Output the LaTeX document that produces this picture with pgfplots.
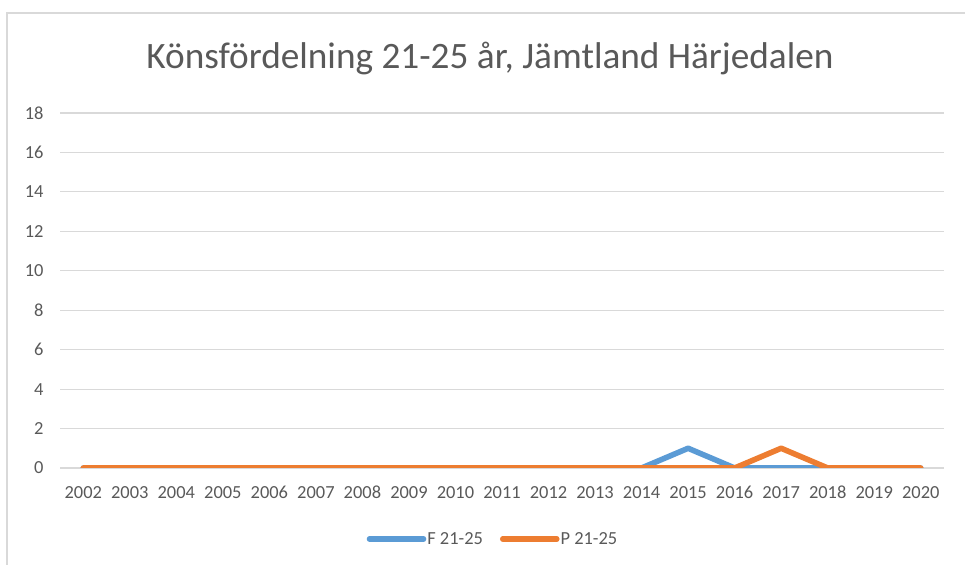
\documentclass[border=0pt]{standalone}
\usepackage{pgfplots}
\pgfplotsset{compat=1.18}
\usepackage{fontspec}
\setmainfont{Carlito}
\definecolor{fblue}{HTML}{5B9BD5}
\definecolor{porange}{HTML}{ED7D31}
\definecolor{gridc}{HTML}{D9D9D9}
\definecolor{txt}{HTML}{595959}
\begin{document}
\begin{tikzpicture}[x=1bp,y=1bp]
\useasboundingbox (0,0) rectangle (965,565);
\draw[gridc, line width=1.2bp] (7,-10) -- (7,552) -- (975,552);
\node[txt, font=\fontsize{37.4}{42}\selectfont] at (490,506) {Könsfördelning 21-25 år, Jämtland Härjedalen};
\begin{axis}[
  at={(60bp,97bp)}, anchor=south west,
  scale only axis, width=884bp, height=355bp,
  xmin=-0.5, xmax=18.5, ymin=0, ymax=18,
  xtick={0,...,18},
  xticklabels={2002,2003,2004,2005,2006,2007,2008,2009,2010,2011,2012,2013,2014,2015,2016,2017,2018,2019,2020},
  ytick={0,2,...,18},
  axis line style={draw=none},
  major tick length=0pt,
  ymajorgrids, grid style={gridc, line width=1.2bp},
  tick label style={txt, font=\fontsize{18.5}{22}\selectfont},
  /pgf/number format/assume math mode=true,
  xticklabel style={anchor=base, yshift=-31bp},
  yticklabel style={xshift=-13bp},
  legend columns=2,
  legend style={at={(0.5,-0.2)}, xshift=-9.5bp, anchor=center, draw=none, fill=none,
    font=\fontsize{18.5}{22}\selectfont, text=txt,
    nodes={inner xsep=1bp},
    /tikz/every even column/.append style={column sep=16bp}},
  legend image code/.code={\path (0bp,0bp) -- (54bp,0bp);\draw[#1, line cap=round] (2.8bp,0bp) -- (51.2bp,0bp);},
  legend cell align=left,
]
\addplot[fblue, line width=5.6bp, line cap=round, line join=round] coordinates {
(0,0)(1,0)(2,0)(3,0)(4,0)(5,0)(6,0)(7,0)(8,0)(9,0)(10,0)(11,0)(12,0)(13,1)(14,0)(15,0)(16,0)(17,0)(18,0)};
\addlegendentry{F 21-25}
\addplot[porange, line width=5.6bp, line cap=round, line join=round] coordinates {
(0,0)(1,0)(2,0)(3,0)(4,0)(5,0)(6,0)(7,0)(8,0)(9,0)(10,0)(11,0)(12,0)(13,0)(14,0)(15,1)(16,0)(17,0)(18,0)};
\addlegendentry{P 21-25}
\end{axis}
\end{tikzpicture}
\end{document}
